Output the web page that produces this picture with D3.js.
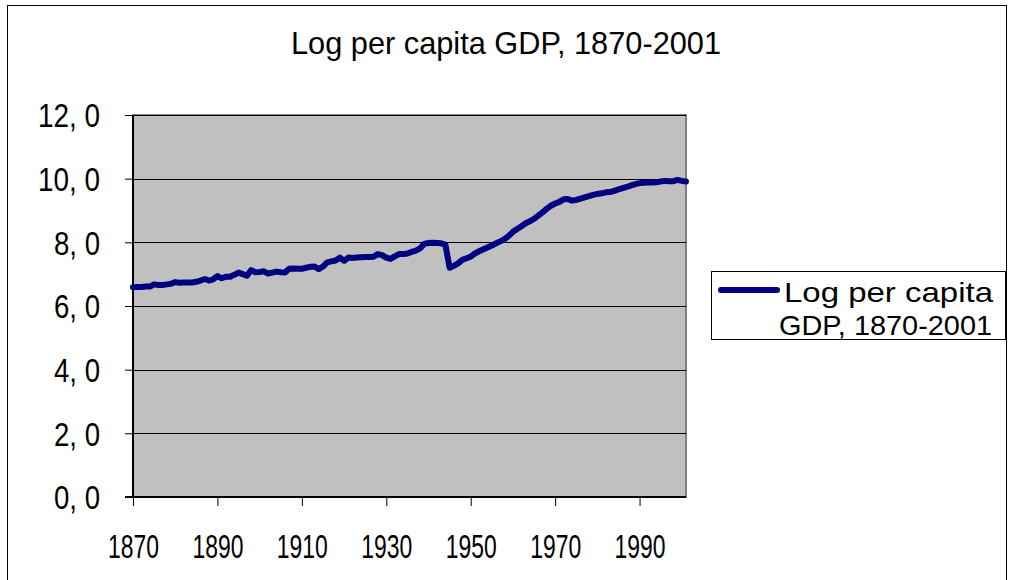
<!DOCTYPE html>
<html><head><meta charset="utf-8">
<script src="https://cdn.jsdelivr.net/npm/d3@7"></script>
<style>html,body{margin:0;padding:0;background:#fff;}svg{display:block;}text{font-family:"Liberation Sans",Arial,sans-serif;fill:#000;}</style>
</head><body>
<svg id="c" width="1010" height="580"></svg>
<script>
const title = "Log per capita GDP, 1870-2001";
const seriesName = "Log per capita GDP, 1870-2001";
const startYear = 1870;
const values = [
6.59,6.60,6.60,6.61,6.61,6.68,6.66,6.66,6.68,6.70,
6.75,6.73,6.74,6.74,6.74,6.76,6.80,6.85,6.80,6.84,
6.94,6.87,6.92,6.92,6.98,7.05,7.00,6.95,7.13,7.06,
7.07,7.09,7.02,7.05,7.08,7.06,7.05,7.17,7.18,7.17,
7.17,7.20,7.23,7.24,7.16,7.24,7.37,7.40,7.43,7.52,
7.42,7.52,7.51,7.52,7.53,7.54,7.54,7.55,7.63,7.60,
7.52,7.48,7.56,7.63,7.63,7.65,7.70,7.74,7.81,7.95,
7.98,7.99,7.98,7.97,7.93,7.20,7.26,7.34,7.45,7.50,
7.55,7.65,7.72,7.78,7.84,7.90,7.97,8.03,8.10,8.20,
8.33,8.42,8.50,8.60,8.66,8.74,8.84,8.94,9.05,9.15,
9.22,9.27,9.35,9.36,9.31,9.33,9.37,9.41,9.45,9.49,
9.52,9.54,9.57,9.58,9.62,9.66,9.70,9.74,9.79,9.83,
9.86,9.87,9.88,9.88,9.89,9.91,9.93,9.92,9.92,9.96,
9.93,9.91];
const years = values.map((v,i)=>startYear+i);
const xTicks = [1870,1890,1910,1930,1950,1970,1990];
const yTicks = [0,2,4,6,8,10,12];

const svg = d3.select("#c");
const L=133, R=686, T=115, B=497;
const x = d3.scaleLinear().domain([1870,2001]).range([L,R]);
const y = d3.scaleLinear().domain([0,12]).range([B,T]);

// outer chart border
svg.append("rect").attr("x",7.5).attr("y",5.5).attr("width",999).attr("height",590)
  .attr("fill","#fff").attr("stroke","#000").attr("stroke-width",1);

// plot area
svg.append("rect").attr("x",L).attr("y",T).attr("width",R-L).attr("height",B-T)
  .attr("fill","#c0c0c0").attr("stroke","#808080").attr("stroke-width",2);

// gridlines
svg.append("g").selectAll("line").data(yTicks.filter(d=>d>0)).join("line")
  .attr("x1",L).attr("x2",R).attr("y1",d=>Math.round(y(d))+0.5).attr("y2",d=>Math.round(y(d))+0.5)
  .attr("stroke","#000").attr("stroke-width",1);

// y axis
const yAxis = d3.axisLeft(y).tickValues(yTicks).tickSize(8).tickPadding(25)
  .tickFormat(d=>d3.format(".1f")(d).replace(".",", "));
const gy = svg.append("g").attr("transform",`translate(${L},0)`).call(yAxis);
gy.select(".domain").attr("stroke","#000").attr("stroke-width",2).attr("d",`M0,${T}V${B}`);
gy.selectAll(".tick line").attr("stroke","#000");
gy.selectAll(".tick text").attr("font-size",33).attr("dy","0.36em")
  .attr("lengthAdjust","spacingAndGlyphs")
  .attr("textLength",d=>d>=10?62:46);

// x axis
const xAxis = d3.axisBottom(x).tickValues(xTicks).tickSize(9).tickPadding(40).tickFormat(d3.format("d"));
const gx = svg.append("g").attr("transform",`translate(0,${B})`).call(xAxis);
gx.select(".domain").attr("stroke","#000").attr("stroke-width",2).attr("d",`M${L-8},0H${R}`);
gx.selectAll(".tick line").attr("stroke","#000");
gx.selectAll(".tick text").attr("font-size",33).attr("dy","0.36em")
  .attr("lengthAdjust","spacingAndGlyphs").attr("textLength",51);

// line
const line = d3.line().x((d,i)=>x(years[i])).y(d=>y(d));
svg.append("path").datum(values).attr("d",line).attr("fill","none")
  .attr("stroke","#000080").attr("stroke-width",6).attr("stroke-linejoin","round").attr("stroke-linecap","round");

// title
svg.append("text").attr("x",506).attr("y",54).attr("text-anchor","middle").attr("font-size",32)
  .attr("lengthAdjust","spacingAndGlyphs").attr("textLength",430).text(title);

// legend
const lg = svg.append("g");
lg.append("rect").attr("x",711.5).attr("y",271.5).attr("width",294).attr("height",68)
  .attr("fill","#fff").attr("stroke","#000").attr("stroke-width",1);
lg.append("line").attr("x1",721).attr("x2",777).attr("y1",290).attr("y2",290)
  .attr("stroke","#000080").attr("stroke-width",6).attr("stroke-linecap","round");
const words = seriesName.split(" ");
lg.append("text").attr("x",784).attr("y",302).attr("font-size",28)
  .attr("lengthAdjust","spacingAndGlyphs").attr("textLength",209).text(words.slice(0,3).join(" "));
lg.append("text").attr("x",779).attr("y",335).attr("font-size",28)
  .attr("lengthAdjust","spacingAndGlyphs").attr("textLength",213).text(words.slice(3).join(" "));
</script>
</body></html>
